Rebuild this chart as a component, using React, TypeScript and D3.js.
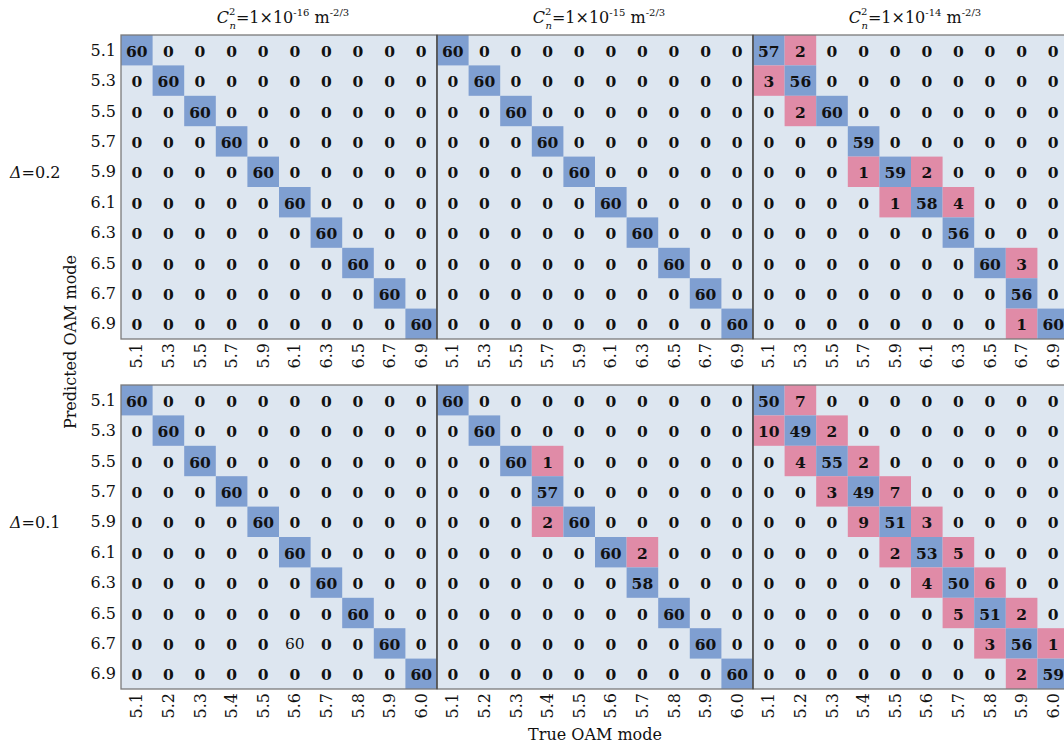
import React from 'react';
import * as d3 from 'd3';

// row labels (predicted mode) are the same for both Δ groups
const predLabels = ['5.1', '5.3', '5.5', '5.7', '5.9', '6.1', '6.3', '6.5', '6.7', '6.9'];
const trueLabelsD02 = ['5.1', '5.3', '5.5', '5.7', '5.9', '6.1', '6.3', '6.5', '6.7', '6.9'];
const trueLabelsD01 = ['5.1', '5.2', '5.3', '5.4', '5.5', '5.6', '5.7', '5.8', '5.9', '6.0'];
const turbulence = ['-16', '-15', '-14'];
const deltas = ['0.2', '0.1'];

// Δ=0.2
const d02_16 = [
    [60, 0, 0, 0, 0, 0, 0, 0, 0, 0],
    [0, 60, 0, 0, 0, 0, 0, 0, 0, 0],
    [0, 0, 60, 0, 0, 0, 0, 0, 0, 0],
    [0, 0, 0, 60, 0, 0, 0, 0, 0, 0],
    [0, 0, 0, 0, 60, 0, 0, 0, 0, 0],
    [0, 0, 0, 0, 0, 60, 0, 0, 0, 0],
    [0, 0, 0, 0, 0, 0, 60, 0, 0, 0],
    [0, 0, 0, 0, 0, 0, 0, 60, 0, 0],
    [0, 0, 0, 0, 0, 0, 0, 0, 60, 0],
    [0, 0, 0, 0, 0, 0, 0, 0, 0, 60],
];
const d02_15 = [
    [60, 0, 0, 0, 0, 0, 0, 0, 0, 0],
    [0, 60, 0, 0, 0, 0, 0, 0, 0, 0],
    [0, 0, 60, 0, 0, 0, 0, 0, 0, 0],
    [0, 0, 0, 60, 0, 0, 0, 0, 0, 0],
    [0, 0, 0, 0, 60, 0, 0, 0, 0, 0],
    [0, 0, 0, 0, 0, 60, 0, 0, 0, 0],
    [0, 0, 0, 0, 0, 0, 60, 0, 0, 0],
    [0, 0, 0, 0, 0, 0, 0, 60, 0, 0],
    [0, 0, 0, 0, 0, 0, 0, 0, 60, 0],
    [0, 0, 0, 0, 0, 0, 0, 0, 0, 60],
];
const d02_14 = [
    [57, 2, 0, 0, 0, 0, 0, 0, 0, 0],
    [3, 56, 0, 0, 0, 0, 0, 0, 0, 0],
    [0, 2, 60, 0, 0, 0, 0, 0, 0, 0],
    [0, 0, 0, 59, 0, 0, 0, 0, 0, 0],
    [0, 0, 0, 1, 59, 2, 0, 0, 0, 0],
    [0, 0, 0, 0, 1, 58, 4, 0, 0, 0],
    [0, 0, 0, 0, 0, 0, 56, 0, 0, 0],
    [0, 0, 0, 0, 0, 0, 0, 60, 3, 0],
    [0, 0, 0, 0, 0, 0, 0, 0, 56, 0],
    [0, 0, 0, 0, 0, 0, 0, 0, 1, 60],
];
// Δ=0.1
const d01_16 = [
    [60, 0, 0, 0, 0, 0, 0, 0, 0, 0],
    [0, 60, 0, 0, 0, 0, 0, 0, 0, 0],
    [0, 0, 60, 0, 0, 0, 0, 0, 0, 0],
    [0, 0, 0, 60, 0, 0, 0, 0, 0, 0],
    [0, 0, 0, 0, 60, 0, 0, 0, 0, 0],
    [0, 0, 0, 0, 0, 60, 0, 0, 0, 0],
    [0, 0, 0, 0, 0, 0, 60, 0, 0, 0],
    [0, 0, 0, 0, 0, 0, 0, 60, 0, 0],
    [0, 0, 0, 0, 0, 60, 0, 0, 60, 0],
    [0, 0, 0, 0, 0, 0, 0, 0, 0, 60],
];
const d01_15 = [
    [60, 0, 0, 0, 0, 0, 0, 0, 0, 0],
    [0, 60, 0, 0, 0, 0, 0, 0, 0, 0],
    [0, 0, 60, 1, 0, 0, 0, 0, 0, 0],
    [0, 0, 0, 57, 0, 0, 0, 0, 0, 0],
    [0, 0, 0, 2, 60, 0, 0, 0, 0, 0],
    [0, 0, 0, 0, 0, 60, 2, 0, 0, 0],
    [0, 0, 0, 0, 0, 0, 58, 0, 0, 0],
    [0, 0, 0, 0, 0, 0, 0, 60, 0, 0],
    [0, 0, 0, 0, 0, 0, 0, 0, 60, 0],
    [0, 0, 0, 0, 0, 0, 0, 0, 0, 60],
];
const d01_14 = [
    [50, 7, 0, 0, 0, 0, 0, 0, 0, 0],
    [10, 49, 2, 0, 0, 0, 0, 0, 0, 0],
    [0, 4, 55, 2, 0, 0, 0, 0, 0, 0],
    [0, 0, 3, 49, 7, 0, 0, 0, 0, 0],
    [0, 0, 0, 9, 51, 3, 0, 0, 0, 0],
    [0, 0, 0, 0, 2, 53, 5, 0, 0, 0],
    [0, 0, 0, 0, 0, 4, 50, 6, 0, 0],
    [0, 0, 0, 0, 0, 0, 5, 51, 2, 0],
    [0, 0, 0, 0, 0, 0, 0, 3, 56, 1],
    [0, 0, 0, 0, 0, 0, 0, 0, 2, 59],
];
// the stray unhighlighted "60" in the Δ=0.1, 1e-16 panel ([group, panel, row, col])
const unmarked = [[1, 0, 8, 5]];

const groups = [
    { delta: deltas[0], cols: trueLabelsD02, mats: [d02_16, d02_15, d02_14] },
    { delta: deltas[1], cols: trueLabelsD01, mats: [d01_16, d01_15, d01_14] },
];

const W = 1064, H = 745;
const FONT = '"DejaVu Serif", "Liberation Serif", serif';
const BG = '#dde6f0';
const BLUE = '#7f9fd1';
const PINK = '#e08ba7';

export default function App() {
    const left = 121, cell = 31.6;
    const panelW = cell * 10;
    const panelX = d3.scaleBand<number>().domain([0, 1, 2]).range([left, left + panelW * 3]);
    const groupTop = [35, 385];
    const rowH = 30.4;

    return (
        <svg width={W} height={H} style={{ position: 'absolute', left: 0, top: 0, background: '#fff' }}
            fontFamily={FONT}>
            {turbulence.map((e, p) => {
                const cx = (panelX(p) as number) + panelW / 2 + 4;
                return (
                    <text key={'t' + p} x={cx} y={23} textAnchor="middle" fontSize={16} fill="#111">
                        <tspan fontStyle="italic">C</tspan>
                        <tspan fontSize={10} dy={-8}>2</tspan>
                        <tspan fontSize={10} fontStyle="italic" dx={-6} dy={14}>n</tspan>
                        <tspan dy={-6}>{'=1×10'}</tspan>
                        <tspan fontSize={10} dy={-7}>{e}</tspan>
                        <tspan dy={7}>{' m'}</tspan>
                        <tspan fontSize={10} dy={-7}>{'-2/3'}</tspan>
                    </text>
                );
            })}

            {groups.map((g, gi) => {
                const top = groupTop[gi];
                const y = d3.scaleBand<string>().domain(predLabels).range([top, top + rowH * 10]);
                const bottom = top + rowH * 10;
                return (
                    <g key={'g' + gi}>
                        <text x={10} y={top + rowH * 4.5 + 6} fontSize={16} fill="#111">
                            <tspan fontStyle="italic">Δ</tspan>={g.delta}
                        </text>
                        {predLabels.map(l => (
                            <text key={l} x={left - 5} y={(y(l) as number) + rowH / 2} textAnchor="end"
                                dominantBaseline="central" fontSize={16} fill="#111">{l}</text>
                        ))}
                        {g.mats.map((m, p) => {
                            const x0 = panelX(p) as number;
                            const x = d3.scaleBand<string>().domain(g.cols).range([x0, x0 + panelW]);
                            return (
                                <g key={'p' + p}>
                                    <rect x={x0} y={top} width={panelW} height={rowH * 10} fill={BG} />
                                    {m.map((row, ri) => row.map((v, ci) => {
                                        const plain = unmarked.some(u => u[0] === gi && u[1] === p && u[2] === ri && u[3] === ci);
                                        const fill = plain ? null : ri === ci ? BLUE : v > 0 ? PINK : null;
                                        const cx = (x(g.cols[ci]) as number);
                                        const cy = (y(predLabels[ri]) as number);
                                        return (
                                            <g key={ri + '-' + ci}>
                                                {fill && <rect x={cx} y={cy} width={x.bandwidth()} height={y.bandwidth()} fill={fill} />}
                                                <text x={cx + x.bandwidth() / 2} y={cy + y.bandwidth() / 2 + 1}
                                                    textAnchor="middle" dominantBaseline="central" fontSize={15.5}
                                                    fontWeight={plain ? 'normal' : 'bold'} fill="#111">{v}</text>
                                            </g>
                                        );
                                    }))}
                                    <rect x={x0} y={top} width={panelW} height={rowH * 10} fill="none"
                                        stroke="#7a7a7a" strokeWidth={1.3} />
                                    {g.cols.map(c => (
                                        <text key={c} transform={`translate(${(x(c) as number) + x.bandwidth() / 2},${bottom + 4}) rotate(-90)`}
                                            textAnchor="end" dominantBaseline="central" fontSize={16} fill="#111">{c}</text>
                                    ))}
                                </g>
                            );
                        })}
                        {[1, 2].map(p => (
                            <line key={'s' + p} x1={panelX(p)} x2={panelX(p)} y1={top} y2={bottom}
                                stroke="#444" strokeWidth={1.3} />
                        ))}
                    </g>
                );
            })}

            <text transform={`translate(76,${342}) rotate(-90)`} textAnchor="middle" fontSize={16} fill="#111">
                Predicted OAM mode
            </text>
            <text x={595} y={740} textAnchor="middle" fontSize={16} fill="#111">True OAM mode</text>
        </svg>
    );
}
